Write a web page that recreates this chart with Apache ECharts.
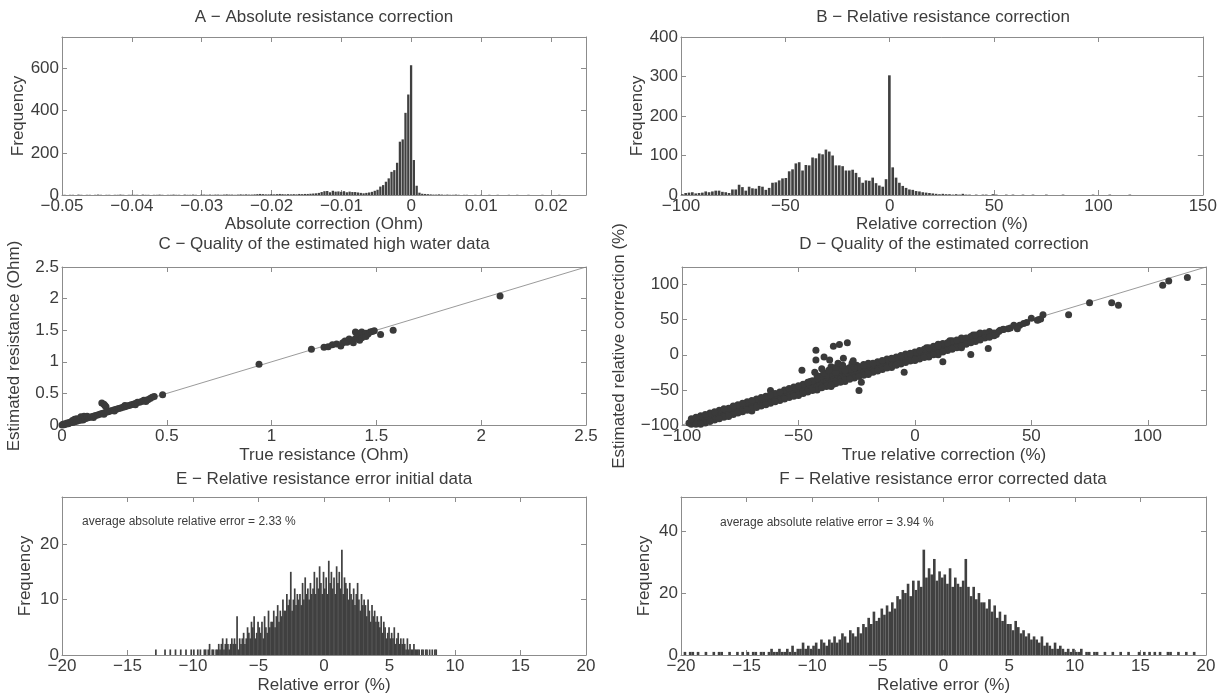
<!DOCTYPE html>
<html>
<head>
<meta charset="utf-8">
<title>Resistance correction</title>
<script src="https://cdn.jsdelivr.net/npm/echarts@6/dist/echarts.min.js"></script>
<style>
    html, body { margin: 0; padding: 0; background: #fff; }
    #chart { width: 1220px; height: 698px; }
</style>
</head>
<body>
<div id="chart"></div>
<script>
// ---- A: absolute correction histogram (Ohm) ----
var binStartA = -0.0498;
var binWidthA = 0.0004;
var countsA = [
    1, 0, 1, 1, 0, 2, 1, 0, 1, 1, 0, 1, 2, 1, 0, 1, 1, 0, 1, 1, 2, 1, 0, 1, 1,
    1, 1, 0, 2, 1, 1, 0, 1, 1, 2, 1, 0, 1, 1, 2, 1, 1, 0, 2, 1, 1, 2, 1, 0, 2,
    2, 1, 2, 1, 2, 2, 1, 2, 3, 2, 2, 1, 2, 3, 2, 3, 2, 2, 3, 4,
    5, 4, 3, 3, 4, 3, 4, 5, 4, 3,
    4, 3, 4, 3, 5, 4, 5, 5, 6, 7, 8, 10, 14,
    18, 19, 13, 20, 16, 17, 15,
    18, 13, 16, 14, 14, 12, 10, 8, 10, 12,
    15, 20, 25, 40, 47, 63, 79, 110, 118, 153, 253, 264, 390, 477, 616,
    166, 44, 11, 6, 5, 4, 3, 2, 2, 3, 2, 1, 2, 1, 1, 2,
    1, 0, 1, 1, 0, 0, 1, 0, 1, 0, 0, 1, 0, 0, 1, 0, 0, 0, 1, 0, 0, 1, 0,
    0, 0, 1, 0, 0, 0, 0, 1, 0, 0, 0, 0, 0, 1, 0, 0, 0, 0, 0, 0, 0, 0, 0
];
var xTicksA = [-0.05, -0.04, -0.03, -0.02, -0.01, 0, 0.01, 0.02];
var yTicksA = [0, 200, 400, 600];

// ---- B: relative correction histogram (%) ----
var binStartB = -100;
var binWidthB = 1.6;
var countsB = [
    2, 5, 6, 7, 4, 5, 6, 9, 7, 9, 11, 11, 8, 7, 5, 14, 14, 26, 20, 11,
    21, 17, 16, 23, 21, 13, 18, 31, 32, 37, 42, 43, 60, 65, 80, 83, 62, 76, 75, 95,
    93, 105, 103, 115, 110, 100, 75, 75, 73, 62, 62, 64, 56, 45, 31, 37, 36, 44, 30, 24,
    21, 40, 303, 70, 44, 31, 23, 18, 14, 13, 10, 9, 7, 6, 5, 4, 3, 2, 3, 2,
    2, 1, 2, 1, 3, 1, 1, 0, 1, 0, 1, 1, 0, 2, 1, 0, 0, 1, 0, 1,
    0, 0, 1, 0, 0, 1, 0, 0, 0, 1, 0, 0, 0, 0, 1, 0, 0, 0, 0, 0,
    0, 0, 0, 1, 0, 0, 0, 0, 1, 0, 0, 0, 0, 0, 1, 0, 0, 0
];
var xTicksB = [-100, -50, 0, 50, 100, 150];
var yTicksB = [0, 100, 200, 300, 400];

// ---- C: true vs estimated resistance (Ohm) ----
var pointsC = [
    [0, 0], [0.005, 0.01], [0.01, 0.005], [0.015, 0.02], [0.02, 0.015], [0.025, 0.03],
    [0.03, 0.02], [0.035, 0.04], [0.04, 0.035], [0.045, 0.05], [0.05, 0.04], [0.05, 0.07],
    [0.055, 0.06], [0.06, 0.05], [0.06, 0.09], [0.065, 0.07], [0.07, 0.06], [0.07, 0.1],
    [0.075, 0.08], [0.08, 0.07], [0.085, 0.09], [0.09, 0.08], [0.09, 0.13], [0.1, 0.12],
    [0.1, 0.09], [0.1, 0.08], [0.105, 0.14], [0.11, 0.1], [0.12, 0.11], [0.12, 0.14],
    [0.13, 0.12], [0.14, 0.13], [0.15, 0.14], [0.15, 0.12], [0.16, 0.15], [0.17, 0.16],
    [0.18, 0.17], [0.19, 0.18], [0.19, 0.35], [0.2, 0.33], [0.205, 0.31], [0.21, 0.29],
    [0.2, 0.19], [0.2, 0.17], [0.21, 0.2], [0.22, 0.21], [0.23, 0.22], [0.24, 0.23],
    [0.25, 0.24], [0.25, 0.22], [0.26, 0.25], [0.27, 0.26], [0.28, 0.27], [0.29, 0.28],
    [0.3, 0.29], [0.3, 0.31], [0.31, 0.3], [0.32, 0.31], [0.33, 0.32], [0.34, 0.33],
    [0.35, 0.34], [0.35, 0.32], [0.36, 0.36], [0.37, 0.36], [0.38, 0.37], [0.39, 0.39],
    [0.4, 0.39], [0.4, 0.37], [0.41, 0.4], [0.42, 0.42], [0.43, 0.44], [0.44, 0.45],
    [0.48, 0.48], [0.94, 0.96], [1.19, 1.2], [1.25, 1.23], [1.27, 1.24], [1.29, 1.27],
    [1.31, 1.28], [1.33, 1.25], [1.34, 1.3], [1.35, 1.33], [1.36, 1.31], [1.37, 1.36],
    [1.38, 1.34], [1.39, 1.3], [1.4, 1.37], [1.4, 1.47], [1.41, 1.45], [1.41, 1.4],
    [1.42, 1.34], [1.43, 1.38], [1.43, 1.47], [1.44, 1.42], [1.45, 1.45], [1.45, 1.4],
    [1.46, 1.44], [1.47, 1.47], [1.48, 1.48], [1.49, 1.49], [1.52, 1.43], [1.58, 1.5],
    [2.09, 2.04]
];
var lineC = [[0, 0], [2.5, 2.5]];
var ticksC = [0, 0.5, 1, 1.5, 2, 2.5];

// ---- D: true vs estimated relative correction (%) ----
var pointsD = [
    [-97, -97], [-96, -99], [-95, -95], [-94, -97], [-93, -92], [-92, -95], [-91, -90],
    [-90, -93], [-89, -88], [-88, -91], [-87, -86], [-86, -89], [-85, -85], [-84, -86],
    [-83, -82], [-82, -85], [-81, -80], [-80, -83], [-80, -88], [-79, -78], [-78, -80],
    [-77, -76], [-76, -79], [-75, -74], [-74, -77], [-73, -71], [-72, -75], [-71, -70],
    [-70, -73], [-70, -80], [-69, -68], [-68, -71], [-67, -65], [-66, -69], [-65, -64],
    [-64, -67], [-63, -62], [-62, -64], [-62, -51], [-61, -59], [-60, -63], [-59, -57],
    [-58, -61], [-57, -55], [-56, -59], [-55, -53], [-54, -57], [-53, -51], [-52, -55],
    [-51, -49], [-50, -53], [-50, -58], [-49, -47], [-48, -51], [-47, -45], [-46, -49],
    [-45, -43], [-45, -38], [-44, -47], [-43, -40], [-42, -45], [-41, -38], [-40, -43],
    [-40, -32], [-39, -36], [-38, -41], [-38, -28], [-38, -45], [-37, -33], [-36, -39],
    [-36, -45], [-36, -17], [-35, -31], [-35, -25], [-35, -42], [-34, -37], [-33, -29],
    [-33, -20], [-32, -35], [-31, -27], [-30, -33], [-30, -20], [-30, -25], [-30, -38],
    [-29, -26], [-28, -31], [-28, -18], [-27, -24], [-26, -29], [-25, -22], [-25, -15],
    [-24, -27], [-23, -21], [-22, -25], [-22, -14], [-21, -19], [-20, -23], [-20, -12],
    [-20, -28], [-19, -17], [-18, -21], [-17, -15], [-16, -19], [-15, -13], [-14, -17],
    [-13, -11], [-12, -15], [-11, -10], [-10, -13], [-10, -18], [-9, -8], [-8, -11],
    [-7, -6], [-6, -9], [-5, -4], [-4, -7], [-3, -2], [-2, -5], [-1, -1], [0, -3],
    [0, -8], [1, 1], [2, -1], [3, 3], [4, 1], [5, 5], [5, 10], [6, 2], [7, 7], [8, 4],
    [9, 9], [10, 6], [10, 0], [10, 15], [11, 11], [12, 8], [13, 13], [14, 10], [15, 14],
    [15, 20], [16, 12], [17, 16], [18, 14], [19, 18], [20, 16], [20, 10], [20, 24],
    [21, 20], [22, 18], [23, 22], [24, 20], [25, 25], [25, 28], [26, 22], [27, 28],
    [28, 24], [29, 29], [30, 27], [32, 30], [34, 31], [35, 29],
    [-96, -91], [-92, -87], [-88, -83], [-84, -79], [-80, -76], [-76, -71], [-72, -67],
    [-68, -63], [-64, -59], [-60, -55], [-56, -50], [-52, -46], [-48, -42], [-44, -37],
    [-40, -30], [-36, -26], [-32, -22], [-28, -20], [-24, -17], [-20, -14], [-16, -10],
    [-12, -6], [-8, -3], [-4, 1], [0, 4], [4, 8], [8, 12], [12, 16], [16, 20], [20, 22],
    [24, 26], [28, 31], [32, 33],
    [-94, -89], [-90, -85], [-86, -81], [-82, -77], [-78, -73], [-74, -69], [-70, -65],
    [-66, -61], [-62, -57], [-58, -53], [-54, -48], [-50, -44], [-46, -39], [-42, -34],
    [-38, -29], [-34, -25], [-30, -22], [-26, -19], [-22, -15], [-18, -12], [-14, -8],
    [-10, -5], [-6, -1], [-2, 2], [2, 6], [6, 10], [10, 13], [14, 17], [18, 21], [22, 24],
    [26, 28], [30, 31],
    [-94, -99], [-90, -97], [-86, -93], [-82, -89], [-78, -85], [-74, -81], [-70, -77],
    [-66, -73], [-62, -69], [-58, -65], [-54, -61], [-50, -57], [-46, -53], [-42, -50],
    [-38, -44], [-34, -41], [-30, -36], [-26, -33], [-22, -29], [-18, -25], [-14, -21],
    [-10, -16], [-6, -13], [-2, -9], [2, -6], [6, -3], [10, 2], [14, 6], [18, 10],
    [22, 15], [26, 19], [30, 24], [34, 27],
    [-92, -99], [-88, -95], [-84, -91], [-80, -87], [-76, -83], [-72, -79], [-68, -75],
    [-64, -71], [-60, -67], [-56, -63], [-52, -59], [-48, -55], [-44, -51], [-40, -47],
    [-36, -43], [-32, -39], [-28, -35], [-24, -31], [-20, -27], [-16, -23], [-12, -19],
    [-8, -15], [-4, -11], [0, -7], [4, -4], [8, 0], [12, 4], [16, 8], [20, 12], [24, 17],
    [28, 21], [32, 25],
    [-42, -30], [-39, -26], [-37, -22], [-34, -18], [-31, -15], [-27, -12], [-40, -20],
    [-33, -12],
    [36, 33], [38, 36], [40, 37], [41, 38], [45, 42], [48, 46], [53, 50], [54, 51],
    [-42.5, 6.6], [-35, 12], [-32.4, 14.7], [-29, 17], [-42.5, -7.6], [-39, -3],
    [-36.6, -7.6], [-30.7, -5], [-26.5, -8.5], [-43, -25], [-48.5, -22], [-23, -39],
    [-24, -51], [-4.6, -25], [12, -10], [24, 0.5], [31.5, 9], [36.6, 35], [38, 36.5],
    [42.5, 42], [44, 37], [46.7, 44.5], [50, 52], [52.6, 49], [55, 57], [66, 57],
    [75, 74], [84.5, 74], [87.4, 70.6], [106.4, 99], [109, 105], [117, 110]
];
var lineD = [[-100, -100], [125, 125]];
var ticksD = [-100, -50, 0, 50, 100];

// ---- E: relative error, initial data (%) ----
var binStartE = -13;
var binWidthE = 0.1;
var countsE = [
    0, 1, 0, 0, 0, 0, 0, 0, 1, 0,
    0, 0, 1, 0, 0, 0, 1, 0, 0, 0,
    1, 0, 0, 0, 1, 0, 0, 0, 1, 0,
    1, 0, 0, 1, 0, 1, 0, 0, 1, 1,
    0, 1, 2, 0, 1, 1, 0, 1, 1, 2,
    1, 2, 3, 1, 2, 3, 2, 1, 2, 3,
    2, 3, 2, 7, 1, 3, 2, 3, 4, 2,
    3, 5, 4, 3, 6, 5, 7, 3, 4, 6,
    5, 4, 6, 3, 7, 5, 4, 8, 5, 6,
    6, 8, 5, 7, 9, 6, 8, 7, 10, 8,
    8, 11, 9, 10, 15, 8, 10, 12, 9, 11,
    10, 11, 9, 13, 10, 14, 11, 12, 10, 13,
    11, 12, 15, 11, 14, 12, 16, 13, 11, 15,
    12, 14, 11, 17, 13, 15, 12, 14, 11, 16,
    13, 15, 12, 19, 11, 14, 13, 12, 10, 13,
    11, 10, 12, 9, 11, 13, 10, 8, 11, 9,
    10, 9, 7, 10, 8, 6, 9, 7, 8, 6,
    7, 6, 5, 7, 4, 6, 5, 3, 4, 5,
    3, 4, 3, 5, 2, 3, 4, 2, 3, 2,
    3, 2, 1, 3, 1, 2, 1, 1, 2, 1,
    1, 1, 1, 0, 1, 1, 0, 1, 1, 0,
    1, 0, 1, 0, 1, 1
];
var xTicksEF = [-20, -15, -10, -5, 0, 5, 10, 15, 20];
var yTicksE = [0, 10, 20];

// ---- F: relative error, corrected data (%) ----
var binStartF = -20;
var binWidthF = 0.2;
var countsF = [
    0, 1, 0, 1, 1,   0, 1, 0, 0, 1,   0, 0, 1, 0, 1,   1, 0, 0, 1, 0,
    0, 1, 0, 1, 0,   1, 0, 1, 1, 0,   1, 1, 0, 1, 2,   1, 1, 2, 1, 1,
    2, 1, 3, 1, 2,   2, 4, 2, 3, 2,   3, 4, 2, 5, 4,   3, 5, 4, 6, 4,
    5, 7, 6, 4, 8,   7, 6, 9, 7, 10,  9, 12, 10, 14, 11, 12, 15, 13, 16, 14,
    17, 15, 19, 18, 21, 20, 23, 19, 24, 21, 24, 22, 34, 25, 28, 26, 31, 24, 27, 25,
    26, 23, 28, 22, 25, 23, 22, 24, 31, 22, 19, 22, 18, 20, 17, 17, 15, 18, 14, 16,
    12, 14, 11, 13, 10, 10, 8, 11, 9, 7,  8, 6, 7, 5, 6,   5, 4, 6, 3, 4,
    3, 2, 4, 2, 3,   2, 1, 2, 1, 2,   1, 1, 2, 0, 1,   1, 0, 1, 1, 0,
    0, 1, 0, 0, 1,   0, 0, 1, 0, 0,   1, 0, 0, 0, 1,   0, 1, 0, 1, 0,
    1, 0, 1, 0, 0,   1, 1, 0, 0, 1,   0, 0, 1, 0, 0,   1, 0, 0, 0, 0
];
var yTicksF = [0, 20, 40];

var titles = [
    'A \u2212 Absolute resistance correction',
    'B \u2212 Relative resistance correction',
    'C \u2212 Quality of the estimated high water data',
    'D \u2212 Quality of the estimated correction',
    'E \u2212 Relative resistance error initial data',
    'F \u2212 Relative resistance error corrected data'
];
var notes = [
    'average absolute relative error = 2.33 %',
    'average absolute relative error = 3.94 %'
];

// ---------------------------------------------------------------
var FONT = "'Liberation Sans', Arial, Helvetica, sans-serif";
var TEXT_COLOR = '#3c3c3c';
var AXIS_COLOR = '#8c8c8c';
var MARK_COLOR = '#404040';
var FONT_SIZE = 17;

var grids = [
    { left: 62, top: 37, width: 524, height: 158 },
    { left: 681, top: 37, width: 525, height: 158 },
    { left: 62, top: 267, width: 524, height: 158 },
    { left: 682, top: 267, width: 524, height: 158 },
    { left: 62, top: 497, width: 524, height: 158 },
    { left: 681, top: 497, width: 525, height: 158 }
];

function histData(start, width, counts) {
    var out = [];
    for (var i = 0; i < counts.length; i++) {
        out.push([start + i * width, start + (i + 1) * width, counts[i]]);
    }
    return out;
}

function fmtNum(v) {
    var s = String(Math.round(v * 1e6) / 1e6);
    return s.replace('-', '\u2212');
}

function axisBase(gridIndex, min, max, ticks) {
    return {
        type: 'value',
        gridIndex: gridIndex,
        min: min,
        max: max,
        axisLine: { show: true, onZero: false, lineStyle: { color: AXIS_COLOR, width: 1 } },
        axisTick: { show: true, inside: true, length: 5, customValues: ticks, lineStyle: { color: AXIS_COLOR } },
        splitLine: { show: false }
    };
}

function makeX(gridIndex, min, max, ticks, name, nameGap) {
    var bottom = echarts.util.merge({
        position: 'bottom',
        axisLabel: {
            customValues: ticks, color: TEXT_COLOR, fontSize: FONT_SIZE, fontFamily: FONT, margin: 3,
            formatter: fmtNum, hideOverlap: false
        },
        name: name,
        nameLocation: 'middle',
        nameGap: nameGap,
        nameTextStyle: { color: TEXT_COLOR, fontSize: FONT_SIZE, fontFamily: FONT }
    }, axisBase(gridIndex, min, max, ticks), true);
    var top = echarts.util.merge({
        position: 'top',
        axisLabel: { show: false }
    }, axisBase(gridIndex, min, max, ticks), true);
    return [bottom, top];
}

function makeY(gridIndex, min, max, ticks, name, nameGap) {
    var left = echarts.util.merge({
        position: 'left',
        axisLabel: {
            customValues: ticks, color: TEXT_COLOR, fontSize: FONT_SIZE, fontFamily: FONT, margin: 3,
            formatter: fmtNum, hideOverlap: false
        },
        name: name,
        nameLocation: 'middle',
        nameGap: nameGap,
        nameTextStyle: { color: TEXT_COLOR, fontSize: FONT_SIZE, fontFamily: FONT }
    }, axisBase(gridIndex, min, max, ticks), true);
    var right = echarts.util.merge({
        position: 'right',
        axisLabel: { show: false }
    }, axisBase(gridIndex, min, max, ticks), true);
    return [left, right];
}

var xAxes = [].concat(
    makeX(0, -0.05, 0.025, xTicksA, 'Absolute correction (Ohm)', 21),
    makeX(1, -100, 150, xTicksB, 'Relative correction (%)', 21),
    makeX(2, 0, 2.5, ticksC, 'True resistance (Ohm)', 22),
    makeX(3, -100, 125, ticksD, 'True relative correction (%)', 22),
    makeX(4, -20, 20, xTicksEF, 'Relative error (%)', 22),
    makeX(5, -20, 20, xTicksEF, 'Relative error (%)', 22)
);
var yAxes = [].concat(
    makeY(0, 0, 750, yTicksA, 'Frequency', 35),
    makeY(1, 0, 400, yTicksB, 'Frequency', 34),
    makeY(2, 0, 2.5, ticksC, 'Estimated resistance (Ohm)', 39),
    makeY(3, -100, 125, ticksD, 'Estimated relative correction (%)', 54),
    makeY(4, 0, 28.5, yTicksE, 'Frequency', 28),
    makeY(5, 0, 51, yTicksF, 'Frequency', 28)
);

// pad > 0 leaves a thin white gap between bins, pad < 0 lets them overlap
function binRenderer(pad) {
    return function (params, api) {
        var p0 = api.coord([api.value(0), 0]);
        var p1 = api.coord([api.value(1), api.value(2)]);
        var w = Math.max(p1[0] - p0[0] - pad, 0.8);
        return {
            type: 'rect',
            shape: { x: p0[0], y: p1[1], width: w, height: p0[1] - p1[1] },
            style: { fill: MARK_COLOR }
        };
    };
}

function histSeries(g, data, pad) {
    return {
        type: 'custom',
        xAxisIndex: 2 * g,
        yAxisIndex: 2 * g,
        renderItem: binRenderer(pad),
        encode: { x: [0, 1], y: 2 },
        clip: true,
        silent: true,
        data: data
    };
}

function scatterSeries(g, data) {
    return {
        type: 'scatter',
        xAxisIndex: 2 * g,
        yAxisIndex: 2 * g,
        symbolSize: 7,
        itemStyle: { color: '#3a3a3a', opacity: 1 },
        clip: true,
        silent: true,
        z: 3,
        data: data
    };
}

function lineSeries(g, data) {
    return {
        type: 'line',
        xAxisIndex: 2 * g,
        yAxisIndex: 2 * g,
        symbol: 'none',
        lineStyle: { color: '#808080', width: 0.8 },
        silent: true,
        z: 2,
        data: data
    };
}

var titlePos = [[324, 17], [943, 17], [324, 244], [944, 244], [324, 479], [943, 479]];
var graphics = [];
for (var t = 0; t < titles.length; t++) {
    graphics.push({
        type: 'text',
        x: titlePos[t][0],
        y: titlePos[t][1],
        style: {
            text: titles[t], fill: TEXT_COLOR, font: FONT_SIZE + 'px ' + FONT,
            textAlign: 'center', textVerticalAlign: 'middle'
        }
    });
}
graphics.push({
    type: 'text', x: 82, y: 522,
    style: { text: notes[0], fill: TEXT_COLOR, font: '12px ' + FONT, textAlign: 'left', textVerticalAlign: 'middle' }
});
graphics.push({
    type: 'text', x: 720, y: 523,
    style: { text: notes[1], fill: TEXT_COLOR, font: '12px ' + FONT, textAlign: 'left', textVerticalAlign: 'middle' }
});

var chart = echarts.init(document.getElementById('chart'), null, { renderer: 'canvas' });
chart.setOption({
    animation: false,
    backgroundColor: '#ffffff',
    textStyle: { fontFamily: FONT },
    grid: grids,
    xAxis: xAxes,
    yAxis: yAxes,
    graphic: graphics,
    series: [
        histSeries(0, histData(binStartA, binWidthA, countsA), 0.5),
        histSeries(1, histData(binStartB, binWidthB, countsB), 0.7),
        lineSeries(2, lineC),
        scatterSeries(2, pointsC),
        lineSeries(3, lineD),
        scatterSeries(3, pointsD),
        histSeries(4, histData(binStartE, binWidthE, countsE), -0.4),
        histSeries(5, histData(binStartF, binWidthF, countsF), 0)
    ]
});
</script>
</body>
</html>
